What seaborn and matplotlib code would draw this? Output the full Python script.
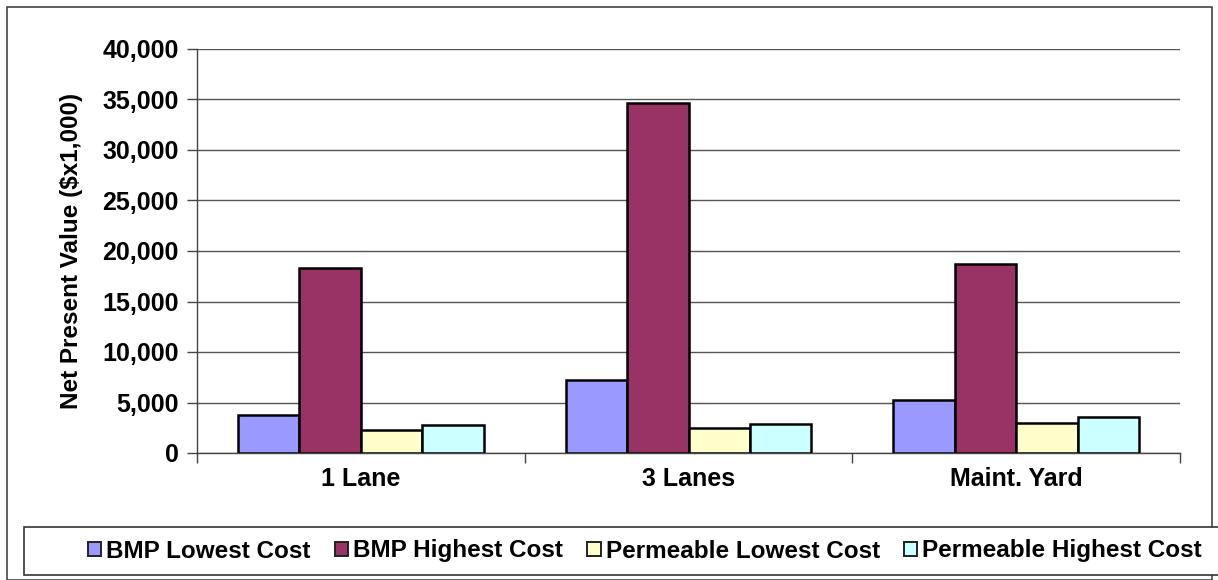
import numpy as np
import pandas as pd
import matplotlib
matplotlib.use('Agg')
import matplotlib.pyplot as plt
import seaborn as sns
from matplotlib.patches import Rectangle
from matplotlib.ticker import FuncFormatter, FixedLocator

categories = ['1 Lane', '3 Lanes', 'Maint. Yard']
series = ['BMP Lowest Cost', 'BMP Highest Cost', 'Permeable Lowest Cost', 'Permeable Highest Cost']
bmp_low = [3750, 7200, 5200]
bmp_high = [18300, 34700, 18700]
perm_low = [2300, 2450, 3000]
perm_high = [2800, 2900, 3550]
colors = ['#9999FF', '#993366', '#FFFFCC', '#CCFFFF']

df = pd.DataFrame({
    'site': categories * 4,
    'series': np.repeat(series, 3),
    'value': bmp_low + bmp_high + perm_low + perm_high,
})

sns.set_style('white')
plt.rcParams['font.family'] = ['Liberation Sans', 'DejaVu Sans']
plt.rcParams['font.weight'] = 'bold'
plt.rcParams['text.color'] = 'black'

fig = plt.figure(figsize=(12.18, 5.8), dpi=100)
ax = fig.add_axes([197 / 1218, 1 - 453 / 580, (1180 - 197) / 1218, (453 - 49) / 580])

sns.barplot(data=df, x='site', y='value', hue='series', palette=colors, saturation=1,
            width=0.75, edgecolor='black', linewidth=1.8, ax=ax, legend=False)

ax.set_ylim(0, 40000)
ax.set_xlim(-0.5, 2.5)
ax.set_yticks(np.arange(0, 40001, 5000))
ax.yaxis.set_major_formatter(FuncFormatter(lambda v, p: f'{int(v):,}'))
ax.yaxis.grid(True, color='#555555', linewidth=1.0)
ax.set_axisbelow(True)

for s in ['top', 'right']:
    ax.spines[s].set_visible(False)
for s in ['left', 'bottom']:
    ax.spines[s].set_color('#444444')
    ax.spines[s].set_linewidth(1.0)

ax.tick_params(axis='y', direction='out', length=7, width=1, color='#444444',
               left=True, labelsize=18, pad=6)
ax.tick_params(axis='x', which='major', length=0, labelsize=18, pad=10)
ax.xaxis.set_minor_locator(FixedLocator([-0.5, 0.5, 1.5, 2.5]))
ax.tick_params(axis='x', which='minor', direction='out', length=7, width=1,
               color='#444444', bottom=True)
for lab in ax.get_xticklabels() + ax.get_yticklabels():
    lab.set_fontweight('bold')
    lab.set_color('black')

ax.set_xlabel('')
ax.set_ylabel('Net Present Value ($x1,000)', fontsize=17.5, fontweight='bold',
              color='black', labelpad=14)

# outer chart border
fig.patches.append(Rectangle((7 / 1218, 0), 1205 / 1218, 1 - 7 / 580, transform=fig.transFigure,
                             fill=False, edgecolor='#444444', linewidth=1.2))
# legend box
fig.patches.append(Rectangle((24 / 1218, 1 - 575 / 580), 1200 / 1218, 48 / 580,
                             transform=fig.transFigure, facecolor='white',
                             edgecolor='#333333', linewidth=1.2, zorder=5))

handles = [Rectangle((0, 0), 1, 1, facecolor=c, edgecolor='#222222', linewidth=1.4) for c in colors]
leg = fig.legend(handles, series, loc='center', ncol=4,
                 bbox_to_anchor=(645 / 1218, 1 - 551 / 580),
                 frameon=False, handlelength=0.55, handleheight=0.55,
                 handletextpad=0.2, columnspacing=1.0, prop={'weight': 'bold', 'size': 17.5})
for t in leg.get_texts():
    t.set_color('black')
leg.set_zorder(6)

fig.savefig('out.png', dpi=100)
